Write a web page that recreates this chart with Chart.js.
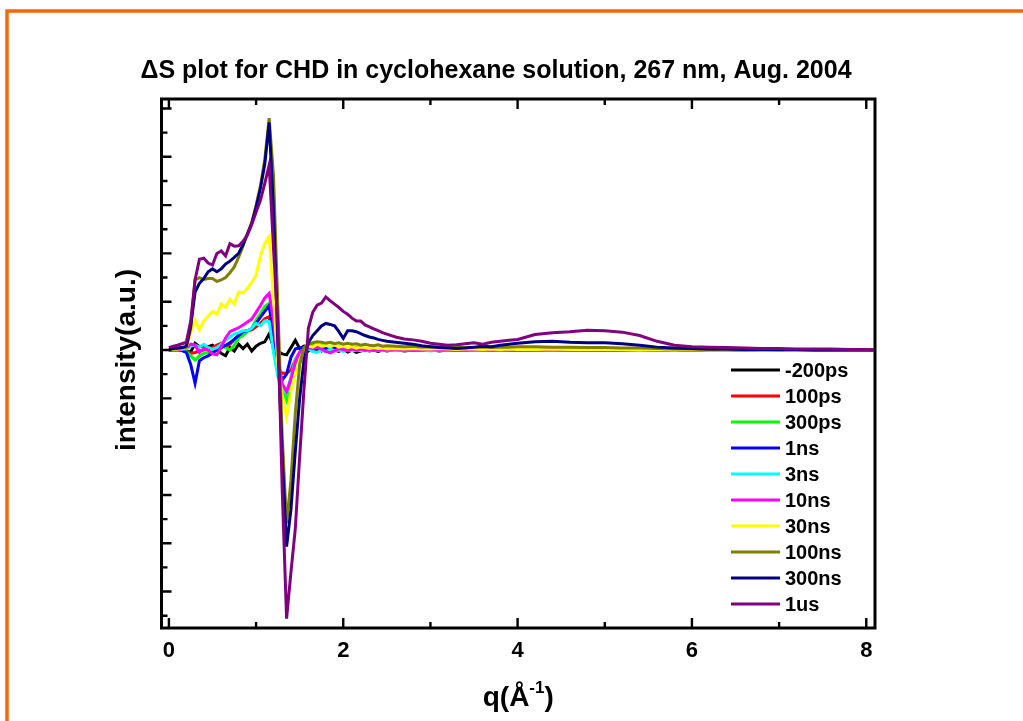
<!DOCTYPE html>
<html>
<head>
<meta charset="utf-8">
<title>ΔS plot for CHD in cyclohexane solution</title>
<script src="https://cdn.jsdelivr.net/npm/chart.js@4.4.1/dist/chart.umd.min.js"></script>
<style>
  html, body { margin: 0; padding: 0; background: #fff; }
  #wrap { width: 1023px; height: 721px; }
</style>
</head>
<body>
<div id="wrap"><canvas id="chart" width="1023" height="721"></canvas></div>
<script>
// q values (1/Angstrom), shared by all delays
const q = [0, 0.05, 0.1, 0.15, 0.2, 0.25, 0.3, 0.35, 0.4, 0.45,
    0.5, 0.55, 0.6, 0.65, 0.7, 0.75, 0.8, 0.85, 0.9, 0.95,
    1, 1.05, 1.1, 1.15, 1.2, 1.25, 1.3, 1.35, 1.4, 1.45,
    1.5, 1.55, 1.6, 1.65, 1.7, 1.75, 1.8, 1.85, 1.9, 1.95,
    2, 2.05, 2.1, 2.15, 2.2, 2.25, 2.3, 2.35, 2.4, 2.45,
    2.5,
    2.6, 2.7, 2.8, 2.9, 3, 3.1, 3.2, 3.3, 3.4, 3.5,
    3.6, 3.7, 3.8, 3.9, 4, 4.2, 4.4, 4.6, 4.8, 5,
    5.2, 5.4, 5.6, 5.8, 6, 6.2, 6.4, 6.6, 6.8, 7,
    7.2, 7.4, 7.6, 7.8, 8, 8.08];

const delays = ["-200ps", "100ps", "300ps", "1ns", "3ns", "10ns", "30ns", "100ns", "300ns", "1us"];
const colors = ["#000000", "#ff0000", "#00ff00", "#0000ff", "#00ffff", "#ff00ff", "#ffff00", "#808000", "#000080", "#800080"];

const dS_m200ps = [0, 0, 0, 0, -0.02, -0.04, 0.14, 0.07, 0.09, 0.07,
    0.10, 0.02, -0.07, -0.12, 0.05, -0.02, 0.12, 0.03, 0.12, -0.02,
    0.08, 0.14, 0.17, 0.33, 0.05, -0.02, -0.08, -0.10, 0.05, 0.20,
    0.03, 0.08, -0.02, 0.05, -0.03, 0.02, 0.04, -0.05, 0.00, -0.03,
    0.02, -0.04, 0.00, -0.05, -0.02, 0.01, -0.02, 0.00, -0.03, 0.00,
    -0.02,
    0.01, -0.02, 0.00, -0.01, 0.01, -0.02, 0.00, 0.01, -0.01, 0.00,
    0.01, -0.01, 0.00, 0.01, 0.00, -0.01, 0.00, 0.01, 0.00, -0.01,
    0.00, 0.00, 0.01, 0.00, -0.01, 0.00, 0.00, 0.01, 0.00, 0.00,
    -0.01, 0.00, 0.00, 0.00, 0.00, 0.00];

const dS_100ps = [0, 0, 0, 0, -0.02, -0.07, -0.05, -0.02, 0.00, 0.02,
    0.05, 0.10, 0.14, 0.07, 0.12, 0.22, 0.31, 0.35, 0.40, 0.42,
    0.48, 0.55, 0.65, 0.69, 0.00, -0.40, -0.48, -0.48, -0.42, -0.20,
    -0.05, 0.03, 0.06, 0.08, 0.05, 0.07, 0.04, 0.06, 0.02, 0.05,
    0.03, 0.04, 0.02, 0.05, 0.01, 0.03, 0.02, 0.04, 0.01, 0.02,
    0.01,
    0.02, 0.01, 0.00, 0.01, 0.00, 0.01, 0.00, 0.01, 0.00, 0.00,
    0.01, 0.00, 0.00, 0.01, 0.00, 0.00, 0.01, 0.00, 0.00, 0.00,
    0.01, 0.00, 0.00, 0.00, 0.00, 0.01, 0.00, 0.00, 0.00, 0.00,
    0.00, 0.00, 0.00, 0.00, 0.00, 0.00];

const dS_300ps = [0, 0, 0, 0, -0.03, -0.12, -0.21, -0.12, -0.07, -0.05,
    -0.02, 0.03, 0.07, 0.05, 0.00, 0.10, 0.25, 0.30, 0.38, 0.45,
    0.62, 0.75, 0.90, 0.97, 0.40, -0.30, -0.80, -1.04, -0.70, -0.30,
    -0.05, 0.05, 0.10, 0.12, 0.08, 0.10, 0.06, 0.08, 0.05, 0.07,
    0.04, 0.05, 0.03, 0.04, 0.02, 0.03, 0.02, 0.01, 0.02, 0.01,
    0.01,
    0.02, 0.01, 0.01, 0.02, 0.01, 0.00, 0.01, 0.01, 0.00, 0.01,
    0.01, 0.00, 0.01, 0.00, 0.01, 0.00, 0.01, 0.00, 0.00, 0.01,
    0.00, 0.00, 0.00, 0.01, 0.00, 0.00, 0.00, 0.00, 0.01, 0.00,
    0.00, 0.00, 0.00, 0.00, 0.00, 0.00];

const dS_1ns = [0, 0, 0, -0.01, -0.05, -0.30, -0.69, -0.22, -0.16, -0.12,
    -0.06, 0.00, 0.05, 0.10, 0.15, 0.22, 0.30, 0.38, 0.40, 0.44,
    0.55, 0.68, 0.80, 0.92, 0.30, -0.35, -0.62, -0.50, -0.15, 0.02,
    0.05, 0.03, 0.06, 0.02, 0.04, -0.02, 0.03, 0.00, 0.04, 0.02,
    -0.01, 0.03, 0.01, 0.02, -0.01, 0.01, 0.02, 0.00, 0.01, -0.01,
    0.00,
    0.01, 0.00, 0.01, -0.01, 0.00, 0.01, 0.00, 0.00, 0.01, 0.00,
    0.00, 0.01, 0.00, 0.00, 0.00, 0.01, 0.00, 0.00, 0.00, 0.00,
    0.01, 0.00, 0.00, 0.00, 0.00, 0.00, 0.01, 0.00, 0.00, 0.00,
    0.00, 0.00, 0.00, 0.00, 0.00, 0.00];

const dS_3ns = [0, 0, 0, 0.01, 0.03, 0.08, 0.10, 0.06, 0.12, 0.05,
    0.02, 0.05, 0.12, 0.20, 0.27, 0.33, 0.36, 0.40, 0.40, 0.45,
    0.55, 0.50, 0.60, 0.59, -0.05, -0.55, -0.80, -0.89, -0.55, -0.20,
    -0.08, -0.03, 0.02, -0.03, -0.05, 0.00, -0.04, 0.02, -0.02, 0.00,
    -0.03, 0.01, -0.02, 0.00, -0.01, -0.02, 0.00, -0.01, 0.00, -0.01,
    0.00,
    -0.01, 0.00, -0.01, 0.00, -0.02, 0.00, -0.01, 0.00, 0.00, -0.01,
    0.00, 0.00, -0.01, 0.00, 0.00, 0.00, -0.01, 0.00, 0.00, 0.00,
    0.00, -0.01, 0.00, 0.00, 0.00, 0.00, 0.00, 0.00, 0.00, 0.00,
    0.00, 0.00, 0.00, 0.00, 0.00, 0.00];

const dS_10ns = [0, 0, 0.01, 0.02, 0.04, 0.12, 0.10, -0.05, 0.03, 0.00,
    -0.08, -0.10, 0.07, 0.25, 0.38, 0.42, 0.46, 0.52, 0.58, 0.64,
    0.78, 0.92, 1.08, 1.17, 0.60, -0.20, -0.70, -0.86, -0.60, -0.25,
    -0.05, 0.02, 0.05, 0.03, 0.06, 0.02, -0.03, -0.06, -0.02, 0.03,
    0.01, -0.02, 0.02, 0.00, 0.02, -0.01, 0.01, -0.01, 0.00, 0.01,
    0.00,
    0.01, 0.00, -0.01, 0.00, 0.01, 0.00, 0.00, -0.01, 0.00, 0.00,
    0.01, 0.00, 0.00, 0.00, -0.01, 0.00, 0.00, 0.00, 0.00, 0.00,
    0.00, 0.00, 0.00, 0.00, 0.00, 0.00, 0.00, 0.00, 0.00, 0.00,
    0.00, 0.00, 0.00, 0.00, 0.00, 0.00];

const dS_30ns = [0.01, 0.01, 0.02, 0.03, 0.05, 0.35, 0.62, 0.42, 0.60, 0.70,
    0.80, 0.74, 0.95, 0.88, 1.05, 0.95, 1.20, 1.18, 1.28, 1.40,
    1.55, 1.95, 2.20, 2.35, 1.10, -0.30, -0.95, -1.39, -0.85, -0.50,
    -0.20, 0.00, 0.08, 0.06, 0.12, 0.08, 0.10, 0.07, 0.11, 0.06,
    0.08, 0.05, 0.07, 0.04, 0.06, 0.05, 0.03, 0.05, 0.03, 0.04,
    0.02,
    0.03, 0.02, 0.03, 0.02, 0.02, 0.03, 0.02, 0.01, 0.02, 0.02,
    0.01, 0.02, 0.01, 0.02, 0.01, 0.01, 0.02, 0.01, 0.01, 0.01,
    0.01, 0.00, 0.01, 0.00, 0.01, 0.00, 0.00, 0.01, 0.00, 0.00,
    0.00, 0.00, 0.00, 0.00, 0.00, 0.00];

const dS_100ns = [0.02, 0.02, 0.03, 0.04, 0.06, 0.45, 1.45, 1.50, 1.46, 1.48,
    1.48, 1.42, 1.45, 1.50, 1.60, 1.72, 1.92, 2.15, 2.40, 2.64,
    3.00, 3.40, 3.95, 4.80, 3.60, 0.90, -1.80, -3.59, -2.70, -1.30,
    -0.30, 0.05, 0.12, 0.15, 0.17, 0.16, 0.14, 0.16, 0.13, 0.15,
    0.12, 0.14, 0.12, 0.13, 0.10, 0.12, 0.10, 0.09, 0.11, 0.08,
    0.09,
    0.08, 0.07, 0.08, 0.06, 0.07, 0.06, 0.05, 0.06, 0.05, 0.05,
    0.06, 0.05, 0.06, 0.06, 0.07, 0.07, 0.06, 0.06, 0.05, 0.05,
    0.04, 0.04, 0.03, 0.02, 0.02, 0.01, 0.01, 0.01, 0.01, 0.00,
    0.01, 0.00, 0.00, 0.00, 0.00, 0.00];

const dS_300ns = [0.02, 0.03, 0.04, 0.05, 0.08, 0.50, 1.20, 1.38, 1.48, 1.62,
    1.68, 1.62, 1.68, 1.78, 1.84, 1.92, 2.00, 2.18, 2.40, 2.62,
    2.95, 3.35, 3.85, 4.71, 2.90, 0.10, -2.20, -4.07, -3.30, -2.10,
    -1.00, -0.20, 0.15, 0.30, 0.40, 0.50, 0.55, 0.53, 0.50, 0.38,
    0.24, 0.40, 0.40, 0.38, 0.34, 0.30, 0.27, 0.25, 0.22, 0.20,
    0.18,
    0.16, 0.14, 0.12, 0.09, 0.07, 0.05, 0.04, 0.03, 0.04, 0.06,
    0.08, 0.07, 0.10, 0.12, 0.14, 0.17, 0.18, 0.16, 0.15, 0.15,
    0.13, 0.10, 0.06, 0.04, 0.03, 0.02, 0.02, 0.01, 0.01, 0.01,
    0.01, 0.00, 0.00, 0.00, 0.00, 0.00];

const dS_1us = [0.05, 0.08, 0.10, 0.13, 0.16, 0.60, 1.45, 1.88, 1.90, 1.80,
    1.76, 2.00, 2.05, 1.95, 2.20, 2.15, 2.16, 2.25, 2.38, 2.60,
    2.85, 3.10, 3.45, 3.83, 2.10, 0.50, -2.90, -5.56, -4.60, -3.70,
    -2.20, -0.80, 0.45, 0.78, 0.93, 0.97, 1.10, 1.02, 0.95, 0.88,
    0.80, 0.74, 0.66, 0.60, 0.60, 0.52, 0.48, 0.44, 0.40, 0.36,
    0.33,
    0.27, 0.23, 0.21, 0.18, 0.14, 0.12, 0.10, 0.11, 0.13, 0.15,
    0.12, 0.16, 0.18, 0.20, 0.22, 0.32, 0.36, 0.38, 0.41, 0.40,
    0.37, 0.30, 0.18, 0.10, 0.07, 0.06, 0.05, 0.04, 0.03, 0.03,
    0.02, 0.02, 0.02, 0.01, 0.01, 0.00];

const series = [dS_m200ps, dS_100ps, dS_300ps, dS_1ns, dS_3ns, dS_10ns, dS_30ns, dS_100ns, dS_300ns, dS_1us];

// tick positions (x labelled every 2, y unlabelled)
const xTicks = [0, 1, 2, 3, 4, 5, 6, 7, 8];
const yTicks = [-5.5, -5, -4.5, -4, -3.5, -3, -2.5, -2, -1.5, -1, -0.5, 0,
    0.5, 1, 1.5, 2, 2.5, 3, 3.5, 4, 4.5, 5];

const FONT = "'Liberation Sans', Arial, sans-serif";

// orange frame around the page
const pageFrame = {
    id: "pageFrame",
    beforeDraw(chart) {
        const ctx = chart.ctx;
        ctx.save();
        ctx.fillStyle = "#fff";
        ctx.fillRect(0, 0, chart.width, chart.height);
        ctx.strokeStyle = "#ff6600";
        ctx.lineWidth = 3.5;
        ctx.beginPath();
        ctx.moveTo(7, chart.height);
        ctx.lineTo(7, 11);
        ctx.lineTo(chart.width, 11);
        ctx.stroke();
        ctx.restore();
    }
};

// axis box with inward ticks
const axisBox = {
    id: "axisBox",
    afterDatasetsDraw(chart) {
        const { ctx, chartArea: a, scales: { x, y } } = chart;
        ctx.save();
        ctx.strokeStyle = "#000";
        ctx.lineWidth = 2.4;
        ctx.beginPath();
        x.ticks.forEach(t => {
            const px = x.getPixelForValue(t.value);
            const len = t.value % 2 === 0 ? 10 : 6;
            ctx.moveTo(px, a.bottom); ctx.lineTo(px, a.bottom - len);
            ctx.moveTo(px, a.top); ctx.lineTo(px, a.top + len);
        });
        y.ticks.forEach(t => {
            const py = y.getPixelForValue(t.value);
            const len = Number.isInteger(t.value) ? 10 : 6;
            ctx.moveTo(a.left, py); ctx.lineTo(a.left + len, py);
        });
        ctx.stroke();
        ctx.lineWidth = 3;
        ctx.strokeRect(a.left, a.top, a.right - a.left, a.bottom - a.top);
        ctx.restore();
    }
};

// title, axis titles and legend
const annotations = {
    id: "annotations",
    afterDraw(chart) {
        const { ctx, chartArea: a } = chart;
        ctx.save();
        ctx.fillStyle = "#000";

        ctx.font = "bold 25px " + FONT;
        ctx.textAlign = "center";
        ctx.textBaseline = "alphabetic";
        ctx.fillText("\u0394S plot for CHD in cyclohexane solution, 267 nm, Aug. 2004", 496, 78);

        ctx.save();
        ctx.translate(127, 360);
        ctx.rotate(-Math.PI / 2);
        ctx.font = "bold 28px " + FONT;
        ctx.textBaseline = "middle";
        ctx.fillText("intensity(a.u.)", 0, 0);
        ctx.restore();

        // q(Å^-1)
        ctx.textAlign = "left";
        ctx.font = "bold 28px " + FONT;
        const w1 = ctx.measureText("q(\u00c5").width;
        const w3 = ctx.measureText(")").width;
        ctx.font = "bold 17px " + FONT;
        const w2 = ctx.measureText("-1").width;
        let cx = (a.left + a.right) / 2 - (w1 + w2 + w3) / 2;
        ctx.font = "bold 28px " + FONT;
        ctx.fillText("q(\u00c5", cx, 706);
        ctx.font = "bold 17px " + FONT;
        ctx.fillText("-1", cx + w1, 693);
        ctx.font = "bold 28px " + FONT;
        ctx.fillText(")", cx + w1 + w2, 706);

        // legend
        ctx.font = "bold 20px " + FONT;
        ctx.textBaseline = "middle";
        chart.data.datasets.forEach((ds, i) => {
            const ly = 370 + i * 26;
            ctx.strokeStyle = ds.borderColor;
            ctx.lineWidth = 2.8;
            ctx.beginPath();
            ctx.moveTo(731, ly);
            ctx.lineTo(780, ly);
            ctx.stroke();
            ctx.fillText(ds.label, 785, ly + 1);
        });
        ctx.restore();
    }
};

const ctx = document.getElementById("chart").getContext("2d");
new Chart(ctx, {
    type: "line",
    data: {
        datasets: delays.map((name, i) => ({
            label: name,
            data: q.map((v, j) => ({ x: v, y: series[i][j] })),
            borderColor: colors[i],
            borderWidth: 3,
            pointRadius: 0,
            tension: 0,
            fill: false,
            order: delays.length - i
        }))
    },
    options: {
        responsive: false,
        animation: false,
        events: [],
        layout: { padding: { left: 161.5, right: 148, top: 99, bottom: 0 } },
        plugins: {
            legend: { display: false },
            tooltip: { enabled: false },
            title: { display: false }
        },
        scales: {
            x: {
                type: "linear",
                min: -0.085,
                max: 8.1,
                afterBuildTicks: s => { s.ticks = xTicks.map(v => ({ value: v })); },
                afterFit: s => { s.height = 93; },
                grid: { display: false, drawTicks: false },
                border: { display: false },
                ticks: {
                    autoSkip: false,
                    maxRotation: 0,
                    padding: 10,
                    color: "#000",
                    font: { family: FONT, size: 22, weight: "bold" },
                    callback: v => (v % 2 === 0 ? String(v) : "")
                }
            },
            y: {
                type: "linear",
                min: -5.755,
                max: 5.197,
                afterBuildTicks: s => { s.ticks = yTicks.map(v => ({ value: v })); },
                afterFit: s => { s.width = 0; },
                grid: { display: false, drawTicks: false },
                border: { display: false },
                ticks: { display: false }
            }
        }
    },
    plugins: [pageFrame, axisBox, annotations]
});
</script>
</body>
</html>
